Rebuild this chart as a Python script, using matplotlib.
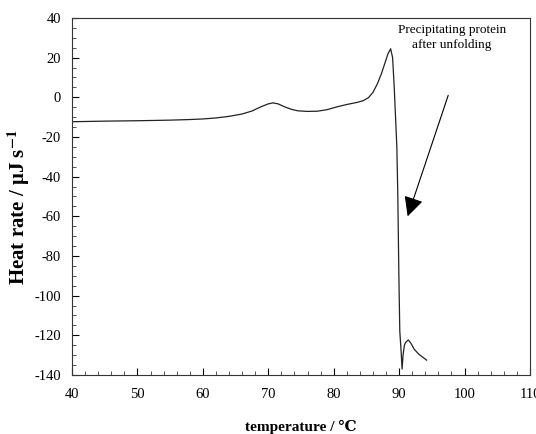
import matplotlib
matplotlib.use("Agg")
import matplotlib.pyplot as plt
from matplotlib.ticker import MultipleLocator, FuncFormatter

temperature = [40, 45, 50, 55, 58, 60, 62, 64, 66, 67.5, 69, 70, 70.7, 71.5, 72.5,
               73.5, 74.5, 76, 77.5, 79, 80.5, 82, 83.5, 84.5, 85.3, 86, 86.7, 87.3,
               87.8, 88.3, 88.7, 89.0, 89.25, 89.45, 89.65, 89.8, 89.95, 90.1, 90.3,
               90.45, 90.6, 90.8, 91.0, 91.4, 91.8, 92.3, 93.0, 93.6, 94.2]
heat_rate = [-12.3, -12.0, -11.8, -11.5, -11.2, -10.9, -10.4, -9.6, -8.4, -6.9, -4.6,
             -3.3, -2.8, -3.3, -4.8, -6.0, -6.8, -7.1, -7.0, -6.2, -4.8, -3.6, -2.6,
             -1.7, -0.2, 2.5, 7.0, 12.0, 17.0, 22.0, 24.5, 20.0, 5.0, -10.0, -25.0,
             -50.0, -88.0, -118.0, -128.0, -137.0, -130.0, -125.0, -123.5, -122.3,
             -124.0, -127.0, -129.5, -131.0, -132.5]

annotation_text = "Precipitating protein\nafter unfolding"
arrow_start = (97.5, 1.0)
arrow_end = (91.3, -60.0)
text_pos = (98.1, 30.2)

serif = ['Liberation Serif', 'DejaVu Serif']
plt.rcParams['font.family'] = serif
plt.rcParams['mathtext.fontset'] = 'stix'

fig = plt.figure(figsize=(5.36, 4.34), dpi=100)
ax = fig.add_axes([72/536, 1-375/434, (530-72)/536, (375-18)/434])

ax.plot(temperature, heat_rate, color='#222222', lw=0.9)

ax.set_xlim(40, 110)
ax.set_ylim(-140, 40)
ax.xaxis.set_major_locator(MultipleLocator(10))
ax.xaxis.set_minor_locator(MultipleLocator(2))
ax.yaxis.set_major_locator(MultipleLocator(20))
ax.yaxis.set_minor_locator(MultipleLocator(5))
ax.yaxis.set_major_formatter(FuncFormatter(lambda v, p: f"{int(round(v))}"))
ax.xaxis.set_major_formatter(FuncFormatter(lambda v, p: f"{int(round(v))}"))

ax.tick_params(which='major', direction='in', length=5, width=0.8, labelsize=10.5,
               color='black')
ax.tick_params(which='minor', direction='in', length=3, width=0.7, color='#555555')
ax.tick_params(axis='y', which='major', pad=8)
ax.tick_params(axis='x', which='major', pad=9)
for s in ax.spines.values():
    s.set_linewidth(0.8)
    s.set_color('#333333')

ax.set_xlabel("temperature / \u2103", fontsize=11, fontweight='bold', family=serif,
              labelpad=14)
ax.set_ylabel("Heat rate / \u03bcJ s$^{\\mathbf{-1}}$", fontsize=15, fontweight='bold',
              family=serif)
ax.yaxis.set_label_coords(-0.088, 0.47)

ax.text(text_pos[0], text_pos[1], annotation_text, ha='center', va='center',
        fontsize=9.5, linespacing=1.35, family=serif)
ax.annotate("", xy=arrow_end, xytext=arrow_start,
            arrowprops=dict(arrowstyle='-|>,head_length=0.8,head_width=0.4',
                            color='black', lw=0.8, mutation_scale=15,
                            shrinkA=0, shrinkB=0))

fig.savefig("out.png", dpi=100)
